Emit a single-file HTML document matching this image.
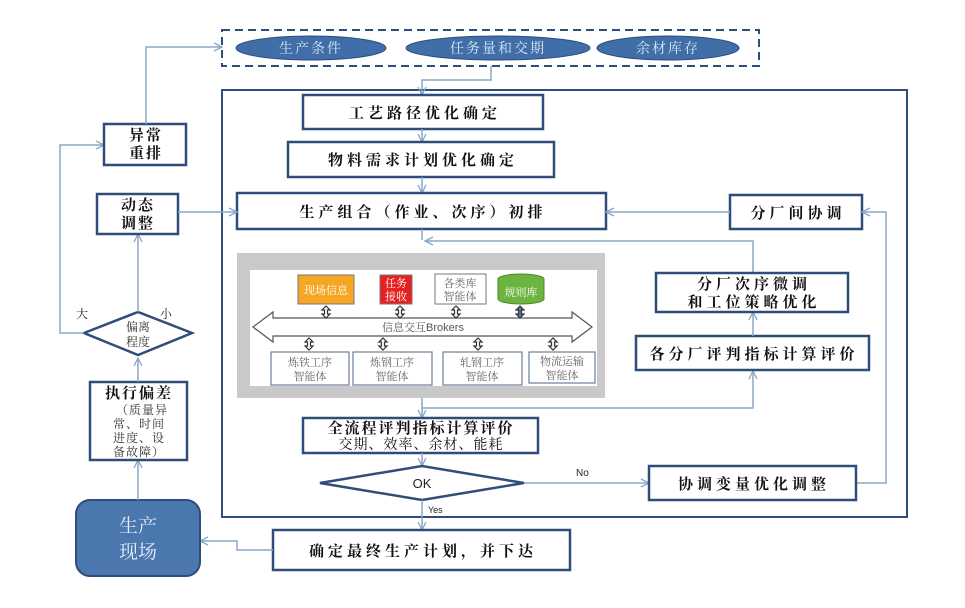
<!DOCTYPE html>
<html><head><meta charset="utf-8"><style>
body{margin:0;background:#fff;}
svg{display:block;font-family:"Liberation Sans","Noto Serif CJK SC","Noto Sans CJK SC",serif;}
.b{fill:#fff;stroke:#2f4d7a;stroke-width:2.5}
.l{fill:none;stroke:#8aa6c8;stroke-width:1.5}
.t{font-size:15px;font-weight:bold;fill:#111;text-anchor:middle;letter-spacing:4px}
.t2{font-size:15px;font-weight:bold;fill:#111;text-anchor:middle;letter-spacing:2px}
.s{font-size:11px;fill:#666;text-anchor:middle}
</style></head><body>
<svg width="965" height="608" viewBox="0 0 965 608">
<defs><marker id="a" markerWidth="10" markerHeight="10" refX="9" refY="5" orient="auto" markerUnits="userSpaceOnUse"><path d="M1,1 L9,5 L1,9" fill="none" stroke="#8aa6c8" stroke-width="1.3"/></marker></defs>
<rect x="222" y="30" width="537" height="36" fill="#fff" stroke="#2f4d7a" stroke-width="2" stroke-dasharray="8,5"/>
<ellipse cx="311" cy="48" rx="75" ry="12" fill="#3f6ea8" stroke="#2f4d7a"/>
<ellipse cx="498" cy="48" rx="92" ry="12" fill="#3f6ea8" stroke="#2f4d7a"/>
<ellipse cx="668" cy="48" rx="71" ry="12" fill="#3f6ea8" stroke="#2f4d7a"/>
<text x="311" y="53" font-size="14" fill="#dfe8f5" text-anchor="middle" letter-spacing="2">生产条件</text>
<text x="498" y="53" font-size="14" fill="#dfe8f5" text-anchor="middle" letter-spacing="2">任务量和交期</text>
<text x="668" y="53" font-size="14" fill="#dfe8f5" text-anchor="middle" letter-spacing="2">余材库存</text>
<rect x="222" y="90" width="685" height="427" fill="none" stroke="#2f4d7a" stroke-width="2"/>
<path class="l" d="M491,66 V80 H422 V95" marker-end="url(#a)"/>
<rect class="b" x="303" y="95" width="240" height="34"/>
<text class="t" x="425" y="118">工艺路径优化确定</text>
<path class="l" d="M422,129 V142" marker-end="url(#a)"/>
<rect class="b" x="288" y="142" width="266" height="35"/>
<text class="t" x="423" y="165">物料需求计划优化确定</text>
<path class="l" d="M422,177 V193" marker-end="url(#a)"/>
<rect class="b" x="237" y="193" width="369" height="36"/>
<text class="t" x="423" y="217">生产组合（作业、次序）初排</text>
<rect class="b" x="730" y="195" width="132" height="34"/>
<text class="t" x="798" y="218">分厂间协调</text>
<path class="l" d="M730,212 H606" marker-end="url(#a)"/>
<path class="l" d="M856,483 H886 V212 H862" marker-end="url(#a)"/>
<path class="l" d="M422,229 V240"/>
<path class="l" d="M753,273 V241 H425" marker-end="url(#a)"/>
<rect x="237" y="253" width="368" height="145" fill="#c9c9c9"/>
<rect x="250" y="270" width="347" height="116" fill="#fff"/>
<rect x="298" y="275" width="56" height="29" fill="#f5a623" stroke="#777"/>
<text x="326" y="294" font-size="11" fill="#fff" text-anchor="middle">现场信息</text>
<rect x="380" y="275" width="32" height="29" fill="#e52222" stroke="#777"/>
<text x="396" y="287" font-size="11" fill="#fff" text-anchor="middle">任务</text>
<text x="396" y="300" font-size="11" fill="#fff" text-anchor="middle">接收</text>
<rect x="435" y="274" width="51" height="30" fill="#fff" stroke="#777"/>
<text class="s" x="460" y="287">各类库</text><text class="s" x="460" y="300">智能体</text>
<path d="M498,279 a23,5 0 0 1 46,0 v20 a23,5 0 0 1 -46,0 z" fill="#6db33f" stroke="#4a8a2a"/>
<text x="521" y="296" font-size="11" fill="#fff" text-anchor="middle">规则库</text>
<path d="M253,327 L273,312 V318 H572 V312 L592,327 L572,342 V336 H273 V342 Z" fill="#fff" stroke="#555" stroke-width="1.2"/>
<text x="423" y="331" font-size="11" fill="#555" text-anchor="middle">信息交互Brokers</text>
<g fill="#fff" stroke="#333" stroke-width="1.2">
<path d="M326,306 l-4,4 h2.5 v4 h-2.5 l4,4 l4,-4 h-2.5 v-4 h2.5 z"/>
<path d="M400,306 l-4,4 h2.5 v4 h-2.5 l4,4 l4,-4 h-2.5 v-4 h2.5 z"/>
<path d="M456,306 l-4,4 h2.5 v4 h-2.5 l4,4 l4,-4 h-2.5 v-4 h2.5 z"/>
<path d="M520,306 l-4,4 h2.5 v4 h-2.5 l4,4 l4,-4 h-2.5 v-4 h2.5 z" fill="#4a78ae"/>
<path d="M309,338 l-4,4 h2.5 v4 h-2.5 l4,4 l4,-4 h-2.5 v-4 h2.5 z"/>
<path d="M383,338 l-4,4 h2.5 v4 h-2.5 l4,4 l4,-4 h-2.5 v-4 h2.5 z"/>
<path d="M478,338 l-4,4 h2.5 v4 h-2.5 l4,4 l4,-4 h-2.5 v-4 h2.5 z"/>
<path d="M553,338 l-4,4 h2.5 v4 h-2.5 l4,4 l4,-4 h-2.5 v-4 h2.5 z"/>
</g>
<g fill="#fff" stroke="#6a7f99" stroke-width="1.2">
<rect x="271" y="352" width="78" height="33"/><rect x="353" y="352" width="79" height="33"/>
<rect x="443" y="352" width="79" height="33"/><rect x="529" y="352" width="66" height="31"/>
</g>
<text class="s" x="310" y="366">炼铁工序</text><text class="s" x="310" y="380">智能体</text>
<text class="s" x="392" y="366">炼钢工序</text><text class="s" x="392" y="380">智能体</text>
<text class="s" x="482" y="366">轧钢工序</text><text class="s" x="482" y="380">智能体</text>
<text class="s" x="562" y="365">物流运输</text><text class="s" x="562" y="379">智能体</text>
<path class="l" d="M422,398 V418" marker-end="url(#a)"/>
<path class="l" d="M422,408 H753 V371" marker-end="url(#a)"/>
<rect class="b" x="636" y="336" width="233" height="34"/>
<text class="t" x="754" y="359">各分厂评判指标计算评价</text>
<path class="l" d="M753,336 V312" marker-end="url(#a)"/>
<rect class="b" x="656" y="273" width="192" height="39"/>
<text class="t" x="754" y="289">分厂次序微调</text>
<text class="t" x="754" y="307">和工位策略优化</text>
<rect class="b" x="303" y="418" width="235" height="35"/>
<text class="t2" x="421" y="433">全流程评判指标计算评价</text>
<text x="421" y="449" font-size="14" fill="#111" text-anchor="middle" letter-spacing="1">交期、效率、余材、能耗</text>
<path class="l" d="M422,453 V466" marker-end="url(#a)"/>
<path d="M320,483 L422,466 L524,483 L422,500 Z" fill="#fff" stroke="#2f4d7a" stroke-width="2.5"/>
<text x="422" y="488" font-size="13" fill="#222" text-anchor="middle">OK</text>
<path class="l" d="M524,483 H649" marker-end="url(#a)"/>
<text x="576" y="476" font-size="10" fill="#222">No</text>
<rect class="b" x="649" y="466" width="207" height="34"/>
<text class="t" x="754" y="489">协调变量优化调整</text>
<path class="l" d="M422,500 V530" marker-end="url(#a)"/>
<text x="428" y="513" font-size="9" fill="#222">Yes</text>
<rect class="b" x="273" y="530" width="297" height="40"/>
<text class="t" x="423" y="556">确定最终生产计划，并下达</text>
<path class="l" d="M273,550 H237 V541 H200" marker-end="url(#a)"/>
<rect x="76" y="500" width="124" height="76" rx="14" fill="#4a78ae" stroke="#2f4d7a" stroke-width="2"/>
<text x="138" y="532" font-size="19" fill="#e6eef8" text-anchor="middle">生产</text>
<text x="138" y="558" font-size="19" fill="#e6eef8" text-anchor="middle">现场</text>
<path class="l" d="M138,500 V460" marker-end="url(#a)"/>
<rect class="b" x="90" y="382" width="97" height="78"/>
<text class="t2" x="139" y="398">执行偏差</text>
<text x="142" y="414" font-size="12" fill="#333" text-anchor="middle" letter-spacing="1">（质量异</text>
<text x="139" y="428" font-size="12" fill="#333" text-anchor="middle" letter-spacing="1">常、时间</text>
<text x="139" y="442" font-size="12" fill="#333" text-anchor="middle" letter-spacing="1">进度、设</text>
<text x="139" y="456" font-size="12" fill="#333" text-anchor="middle" letter-spacing="1">备故障）</text>
<path class="l" d="M138,382 V358" marker-end="url(#a)"/>
<path d="M84,333 L138,312 L192,333 L138,355 Z" fill="#fff" stroke="#2f4d7a" stroke-width="2.5"/>
<text x="138" y="331" font-size="12" fill="#333" text-anchor="middle">偏离</text>
<text x="138" y="346" font-size="12" fill="#333" text-anchor="middle">程度</text>
<text x="76" y="318" font-size="12" fill="#222">大</text>
<text x="160" y="318" font-size="12" fill="#222">小</text>
<path class="l" d="M138,312 V234" marker-end="url(#a)"/>
<path class="l" d="M84,333 H60 V145 H104" marker-end="url(#a)"/>
<rect class="b" x="97" y="194" width="81" height="40"/>
<text class="t2" x="138" y="210">动态</text><text class="t2" x="138" y="228">调整</text>
<path class="l" d="M178,212 H237" marker-end="url(#a)"/>
<rect class="b" x="104" y="124" width="82" height="41"/>
<text class="t2" x="146" y="140">异常</text><text class="t2" x="146" y="158">重排</text>
<path class="l" d="M146,124 V47 H222" marker-end="url(#a)"/>
</svg>
</body></html>
